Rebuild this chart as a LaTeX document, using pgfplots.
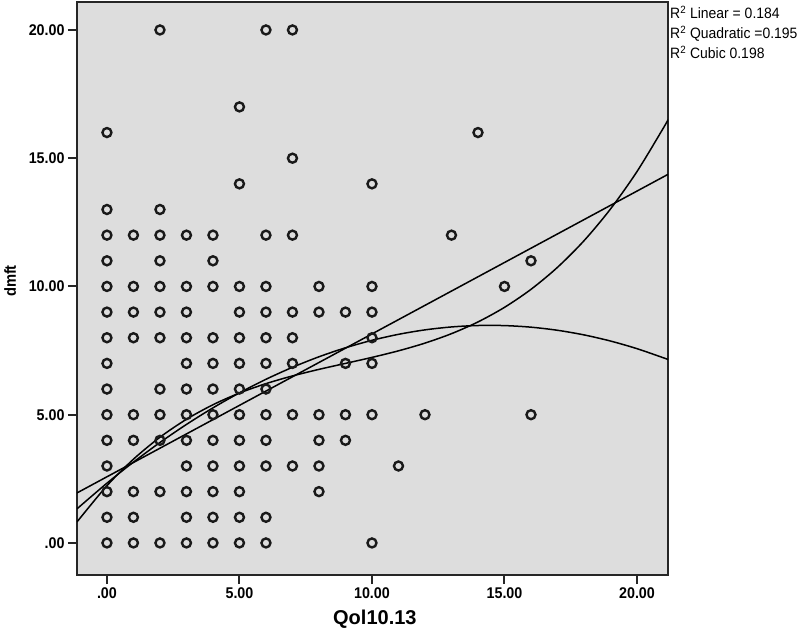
\documentclass[border=0pt]{standalone}
\usepackage{pgfplots}
\pgfplotsset{compat=1.18}
\usepackage{fontspec}
\setmainfont{Liberation Sans}
\newfontfamily\narrowfont[FakeStretch=0.92]{Liberation Sans}
\newfontfamily\legfont[FakeStretch=0.93]{Liberation Sans}
\definecolor{bggray}{RGB}{221,221,221}
\begin{document}
\begin{tikzpicture}
\path[use as bounding box] (-77pt,-52pt) rectangle (720pt,575pt);
\begin{axis}[
  name=ax, at={(0,0)}, anchor=south west,
  scale only axis, width=591pt, height=573pt,
  xmin=-1.13, xmax=21.17, ymin=-1.25, ymax=21.09,
  axis background/.style={fill=bggray},
  axis line style={line width=2.2pt, black!85},
  xtick={0,5,10,15,20}, xticklabels={.00,5.00,10.00,15.00,20.00},
  ytick={0,5,10,15,20}, yticklabels={.00,5.00,10.00,15.00,20.00},
  tick align=outside, tick pos=left,
  major tick length=9pt,
  tick style={line width=2pt, black!85},
  ticklabel style={font=\narrowfont\fontsize{15.5}{15.5}\selectfont\bfseries},
  xlabel={Qol10.13}, ylabel={dmft},
  xlabel style={font=\fontsize{20}{20}\selectfont\bfseries, at={(axis description cs:0.504,0)}, anchor=center, yshift=-44pt},
  ylabel style={font=\narrowfont\fontsize{16}{16}\selectfont\bfseries, at={(axis description cs:-0.113,0.513)}, anchor=center},
]
\addplot[only marks, mark=o, mark size=4.5pt, mark options={line width=2.4pt, black!90}] coordinates {
(2,20)(6,20)(7,20)
(5,17)
(0,16)(14,16)
(7,15)
(5,14)(10,14)
(0,13)(2,13)
(0,12)(1,12)(2,12)(3,12)(4,12)(6,12)(7,12)(13,12)
(0,11)(2,11)(4,11)(16,11)
(0,10)(1,10)(2,10)(3,10)(4,10)(5,10)(6,10)(8,10)(10,10)(15,10)
(0,9)(1,9)(2,9)(3,9)(5,9)(6,9)(7,9)(8,9)(9,9)(10,9)
(0,8)(1,8)(2,8)(3,8)(4,8)(5,8)(6,8)(7,8)(10,8)
(0,7)(3,7)(4,7)(5,7)(6,7)(7,7)(9,7)(10,7)
(0,6)(2,6)(3,6)(4,6)(5,6)(6,6)
(0,5)(1,5)(2,5)(3,5)(4,5)(5,5)(6,5)(7,5)(8,5)(9,5)(10,5)(12,5)(16,5)
(0,4)(1,4)(2,4)(3,4)(4,4)(5,4)(6,4)(8,4)(9,4)
(0,3)(3,3)(4,3)(5,3)(6,3)(7,3)(8,3)(11,3)
(0,2)(1,2)(2,2)(3,2)(4,2)(5,2)(8,2)
(0,1)(1,1)(3,1)(4,1)(5,1)(6,1)
(0,0)(1,0)(2,0)(3,0)(4,0)(5,0)(6,0)(10,0)
};
% linear fit
\addplot[no marks, line width=1.5pt, black] coordinates {(-1.13,1.95)(21.17,14.37)};
% quadratic fit
\addplot[no marks, smooth, line width=1.5pt, black] coordinates {
(-1.13,1.33)(0,2.33)(1,3.152)(2,3.916)(3,4.620)(4,5.266)(5,5.852)(6,6.380)(7,6.848)(8,7.258)(9,7.608)(10,7.900)(11,8.133)(12,8.307)(13,8.421)(14,8.477)(15,8.474)(16,8.412)(17,8.291)(18,8.111)(19,7.872)(20,7.574)(21,7.217)(21.17,7.151)};
% cubic fit
\addplot[no marks, smooth, line width=1.5pt, black] coordinates {
(-1.13,0.82)(0,2.231)(1,3.265)(2,4.121)(3,4.821)(4,5.388)(5,5.844)(6,6.211)(7,6.511)(8,6.767)(9,7.000)(10,7.234)(11,7.490)(12,7.791)(13,8.159)(14,8.616)(15,9.185)(16,9.887)(17,10.746)(18,11.782)(19,13.020)(20,14.480)(21,16.185)(21.17,16.50)};
\end{axis}
\begin{scope}[every node/.style={anchor=base west, inner sep=0pt, font=\legfont\fontsize{15}{15}\selectfont}]
\node[xshift=2pt, yshift=-17pt] at (ax.north east) {R\textsuperscript{2} Linear = 0.184};
\node[xshift=2pt, yshift=-37pt] at (ax.north east) {R\textsuperscript{2} Quadratic =0.195};
\node[xshift=2pt, yshift=-57pt] at (ax.north east) {R\textsuperscript{2} Cubic 0.198};
\end{scope}
\end{tikzpicture}
\end{document}
